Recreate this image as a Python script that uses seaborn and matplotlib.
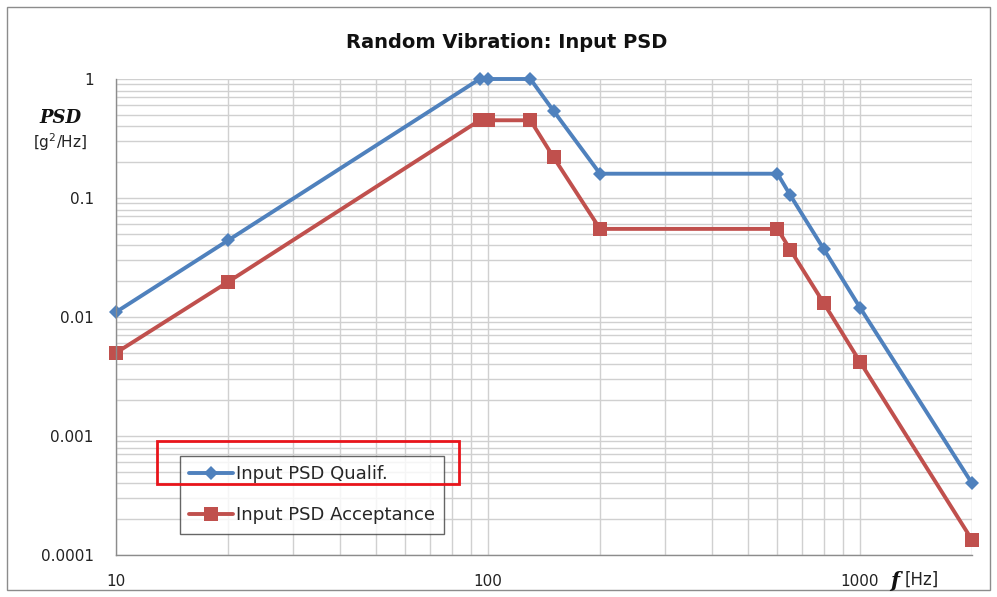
import pandas as pd
import matplotlib.pyplot as plt
import matplotlib.ticker as mticker
from matplotlib.patches import Rectangle
import seaborn as sns
import numpy as np

# PSD breakpoints
freq = [10, 20, 95, 100, 130, 150, 200, 600, 650, 800, 1000, 2000]
psd_qualif = [0.011, 0.044, 1.0, 1.0, 1.0, 0.54, 0.16, 0.16, 0.105, 0.037, 0.012, 0.0004]
psd_accept = [0.005, 0.0197, 0.45, 0.45, 0.45, 0.22, 0.055, 0.055, 0.0366, 0.013, 0.0042, 0.000134]
series_names = ['Input PSD Qualif.', 'Input PSD Acceptance']

df = pd.DataFrame({
    'f': freq * 2,
    'psd': psd_qualif + psd_accept,
    'series': [series_names[0]] * len(freq) + [series_names[1]] * len(freq),
})

sns.set_style('white')
plt.rcParams['font.family'] = ['DejaVu Sans']

fig = plt.figure(figsize=(9.97, 5.97), dpi=100)
ax = fig.add_axes([116 / 997, 1 - 555 / 597, (972 - 116) / 997, (555 - 79) / 597])

palette = {series_names[0]: '#4F81BD', series_names[1]: '#C0504D'}
sns.lineplot(data=df, x='f', y='psd', hue='series', style='series',
             markers={series_names[0]: 'D', series_names[1]: 's'},
             dashes=False, palette=palette, sort=False, estimator=None,
             linewidth=2.8, ax=ax)
for line in ax.get_lines():
    if line.get_marker() == 'D':
        line.set_markersize(7.5)
    else:
        line.set_markersize(10)
    line.set_markeredgewidth(0)
    line.set_clip_on(False)

ax.set_xscale('log')
ax.set_yscale('log')
ax.set_xlim(10, 2000)
ax.set_ylim(0.0001, 1)

ax.xaxis.set_major_locator(mticker.FixedLocator([10, 100, 1000]))
ax.xaxis.set_major_formatter(mticker.FixedFormatter(['10', '100', '1000']))
ax.xaxis.set_minor_locator(mticker.LogLocator(base=10, subs=np.arange(2, 10)))
ax.xaxis.set_minor_formatter(mticker.NullFormatter())
ax.yaxis.set_major_locator(mticker.FixedLocator([0.0001, 0.001, 0.01, 0.1, 1]))
ax.yaxis.set_major_formatter(mticker.FixedFormatter(['0.0001', '0.001', '0.01', '0.1', '1']))
ax.yaxis.set_minor_locator(mticker.LogLocator(base=10, subs=np.arange(2, 10)))
ax.yaxis.set_minor_formatter(mticker.NullFormatter())

ax.grid(True, which='both', color='#d0d0d0', linewidth=1)
ax.set_axisbelow(True)
for side in ['top', 'right']:
    ax.spines[side].set_visible(False)
for side in ['left', 'bottom']:
    ax.spines[side].set_color('#8c8c8c')
    ax.spines[side].set_linewidth(1)

ax.tick_params(axis='y', which='major', length=6, color='#8c8c8c', labelsize=11,
               pad=10, labelcolor='#222222')
ax.tick_params(axis='y', which='minor', length=0)
ax.tick_params(axis='x', which='both', length=0, labelsize=11, pad=14, labelcolor='#222222')
ax.set_xlabel('')
ax.set_ylabel('')

fig.text(507 / 997, 1 - 42 / 597, 'Random Vibration: Input PSD', fontsize=14,
         fontweight='bold', ha='center', va='center', color='#111111')

fig.text(60 / 997, 1 - 118 / 597, 'PSD', family='DejaVu Serif', style='italic',
         weight='bold', fontsize=13, ha='center', va='center', color='#111111')
fig.text(60 / 997, 1 - 142 / 597, '[g$^2$/Hz]', fontsize=11, ha='center', va='center',
         color='#222222')
fig.text(895 / 997, 1 - 581 / 597, 'f', family='DejaVu Serif', style='italic',
         weight='bold', fontsize=15, ha='center', va='center', color='#111111')
fig.text(905 / 997, 1 - 580 / 597, '[Hz]', fontsize=12, ha='left', va='center',
         color='#222222')

leg = ax.legend(loc='upper left', bbox_to_anchor=(0.075, 0.208), borderaxespad=0,
                fontsize=13, frameon=True, fancybox=False, labelspacing=1.3,
                handlelength=2.4, handletextpad=0.2, borderpad=0.5)
leg.get_frame().set_edgecolor('#404040')
leg.get_frame().set_linewidth(1)

# red highlight box and outer chart border
fig.patches.append(Rectangle((157 / 997, 1 - 484 / 597), 302 / 997, 43 / 597,
                             transform=fig.transFigure, fill=False,
                             edgecolor='#e8141b', linewidth=2, zorder=10))
fig.patches.append(Rectangle((7 / 997, 1 - 590 / 597), 983 / 997, 583 / 597,
                             transform=fig.transFigure, fill=False,
                             edgecolor='#8c8c8c', linewidth=1))

plt.savefig('out.png', dpi=100)
